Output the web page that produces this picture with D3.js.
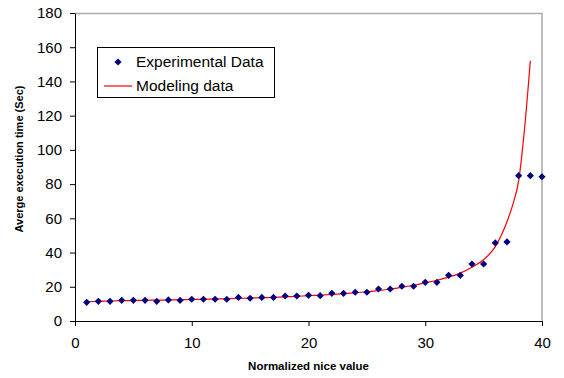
<!DOCTYPE html>
<html>
<head>
<meta charset="utf-8">
<script src="https://cdn.jsdelivr.net/npm/d3@7"></script>
<style>
  body { margin: 0; background: #fff; }
  svg text { font-family: "Liberation Sans", Arial, sans-serif; }
</style>
</head>
<body>
<script>
// experimental points, x = 1..40
const expX = d3.range(1, 41);
const expY = [
  10.9, 11.5, 11.5, 12.1, 12.1, 12.1, 11.5, 12.3, 12.1, 12.7,
  12.7, 12.7, 12.7, 13.8, 13.3, 13.8, 13.8, 14.6, 14.6, 15.0,
  14.8, 16.2, 16.2, 16.8, 16.8, 18.7, 18.7, 20.3, 20.3, 22.6,
  22.6, 26.7, 26.7, 33.3, 33.3, 45.6, 46.2, 84.9, 84.9, 84.3
];

// modeling curve
const modelX = [1, 2, 3, 4, 5, 6, 7, 8, 9, 10, 11, 12, 13, 14, 15, 16, 17, 18, 19, 20,
  21, 22, 23, 24, 25, 26, 27, 28, 29, 30, 31, 32, 33, 34, 35, 36, 37, 37.5, 38, 38.5, 39];
const modelY = [11.3, 11.5, 11.7, 11.9, 12.0, 12.1, 12.2, 12.3, 12.4, 12.6,
  12.7, 12.9, 13.0, 13.2, 13.4, 13.6, 13.8, 14.1, 14.4, 14.8,
  15.1, 15.5, 16.0, 16.5, 17.1, 17.8, 18.7, 19.7, 20.9, 22.3,
  23.8, 25.6, 28.0, 31.4, 35.8, 43.5, 58, 68, 82, 112, 152];

const xTicks = [0, 10, 20, 30, 40];
const yTicks = [0, 20, 40, 60, 80, 100, 120, 140, 160, 180];
const seriesNames = ["Experimental Data", "Modeling data"];

const W = 564, H = 378;
const margin = { top: 13, right: 22, bottom: 57, left: 75 };
const width = W - margin.left - margin.right,
  height = H - margin.top - margin.bottom;

const svg = d3.select("body").append("svg")
  .attr("width", W)
  .attr("height", H);

const g = svg.append("g")
  .attr("transform", "translate(" + margin.left + "," + margin.top + ")");

const x = d3.scaleLinear().domain([0, 40]).range([0, width]);
const y = d3.scaleLinear().domain([0, 180]).range([height, 0]);

// gray frame on top and right
g.append("path")
  .attr("d", "M0,0.5H" + width + "V" + height)
  .attr("fill", "none")
  .attr("stroke", "#aaa")
  .attr("stroke-width", 1.5);

// axes
const xAxis = g.append("g")
  .attr("transform", "translate(0," + height + ")")
  .call(d3.axisBottom(x).tickValues(xTicks).tickSize(5).tickSizeOuter(0).tickPadding(9));

const yAxis = g.append("g")
  .call(d3.axisLeft(y).tickValues(yTicks).tickSize(5).tickSizeOuter(0).tickPadding(8));

[xAxis, yAxis].forEach(a => {
  a.select(".domain").attr("stroke", "#000");
  a.selectAll(".tick line").attr("stroke", "#000");
  a.selectAll(".tick text")
    .attr("fill", "#000")
    .style("font-size", "15px");
});
xAxis.selectAll(".tick text").attr("dy", "0.85em");

// model line
const line = d3.line()
  .x((d, i) => x(modelX[i]))
  .y(d => y(d))
  .curve(d3.curveMonotoneX);

g.append("path")
  .datum(modelY)
  .attr("d", line)
  .attr("fill", "none")
  .attr("stroke", "#ff0000")
  .attr("stroke-width", 1.2);

// experimental diamonds
const diamond = d3.symbol().type(d3.symbolSquare).size(26);

g.selectAll(".pt")
  .data(expY)
  .enter()
  .append("path")
  .attr("class", "pt")
  .attr("d", diamond)
  .attr("transform", (d, i) => "translate(" + x(expX[i]) + "," + y(d) + ") rotate(45)")
  .attr("fill", "#000080");

// legend
const legend = svg.append("g").attr("transform", "translate(97,47)");
legend.append("rect")
  .attr("x", 0.5).attr("y", 0.5)
  .attr("width", 177).attr("height", 50)
  .attr("fill", "#fff")
  .attr("stroke", "#000");

legend.append("path")
  .attr("d", diamond)
  .attr("transform", "translate(21,15) rotate(45)")
  .attr("fill", "#000080");
legend.append("line")
  .attr("x1", 7).attr("x2", 35)
  .attr("y1", 39).attr("y2", 39)
  .attr("stroke", "#ff0000")
  .attr("stroke-width", 1.2);

legend.selectAll(".lt")
  .data(seriesNames)
  .enter()
  .append("text")
  .attr("x", 39)
  .attr("y", (d, i) => 15 + i * 24)
  .attr("dy", "0.35em")
  .style("font-size", "15.5px")
  .text(d => d);

// axis titles
svg.append("text")
  .attr("x", margin.left + width / 2)
  .attr("y", 370)
  .attr("text-anchor", "middle")
  .style("font-size", "11.5px")
  .style("font-weight", "bold")
  .text("Normalized nice value");

svg.append("text")
  .attr("transform", "translate(23,159) rotate(-90)")
  .attr("text-anchor", "middle")
  .style("font-size", "11px")
  .style("font-weight", "bold")
  .text("Averge execution time (Sec)");
</script>
</body>
</html>
